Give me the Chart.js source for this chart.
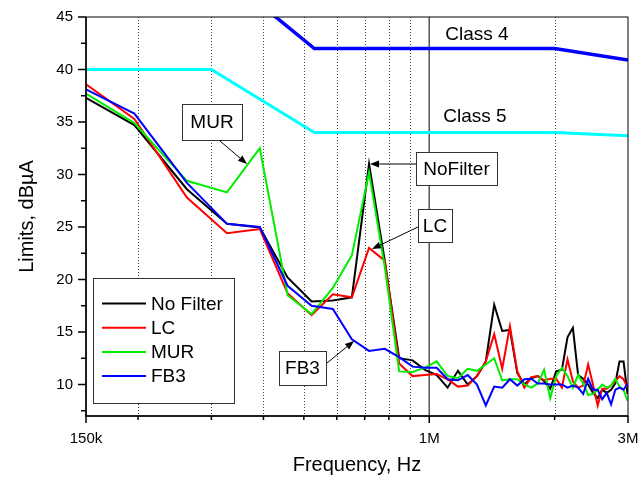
<!DOCTYPE html>
<html>
<head>
<meta charset="utf-8">
<script src="https://cdn.jsdelivr.net/npm/chart.js@4.4.1/dist/chart.umd.min.js"></script>
<style>
html, body { margin: 0; padding: 0; background: #fff; }
#wrap { width: 639px; height: 477px; }
</style>
</head>
<body>
<div id="wrap"><canvas id="chart" width="639" height="477"></canvas></div>
<script>
// measured frequencies, kHz
const freqKHz = [150, 196, 262, 327, 392, 457, 522, 587, 652, 717, 782, 847, 912, 977, 1042, 1107, 1172, 1237, 1302, 1367,
    1432, 1497, 1562, 1627, 1692, 1757, 1822, 1887, 1952, 2017, 2082, 2147, 2212, 2277, 2342, 2407, 2472, 2537, 2602, 2667,
    2732, 2797, 2862, 2927, 2992];

const noFilter = [37.3, 34.7, 28.6, 25.3, 24.95, 20.2, 17.9, 18.0, 18.3, 31.0, 21.8, 12.5, 12.3, 11.4, 10.9, 9.7, 11.3, 10.0, 10.8, 12.2,
    17.6, 15.1, 15.2, 11.1, 10.0, 10.6, 10.8, 10.3, 9.6, 11.25, 11.4, 14.5, 15.4, 10.9, 10.55, 10.0, 9.2, 8.7, 9.5, 9.2,
    9.5, 10.1, 12.2, 12.2, 9.1];
const lc = [38.6, 35.3, 27.8, 24.4, 24.8, 18.7, 16.6, 18.6, 18.3, 23.0, 21.8, 12.0, 10.8, 10.9, 11.0, 10.5, 9.8, 9.9, 10.8, 12.2,
    14.8, 11.5, 15.55, 11.25, 9.7, 10.7, 10.8, 10.4, 10.55, 10.55, 9.7, 12.4, 10.3, 9.7, 9.9, 11.9, 10.0, 8.0, 9.6, 9.6,
    9.9, 10.3, 10.8, 10.5, 9.7];
const mur = [37.7, 34.9, 29.4, 28.3, 32.5, 18.5, 16.7, 19.2, 22.3, 30.2, 21.2, 11.25, 11.2, 11.6, 12.2, 10.8, 10.6, 11.5, 11.3, 11.9,
    12.5, 10.4, 10.5, 10.5, 10.0, 9.7, 10.1, 11.4, 8.7, 10.8, 11.6, 10.8, 9.7, 10.9, 10.1, 9.0, 9.1, 9.5, 10.0, 9.7,
    9.9, 10.55, 9.8, 9.5, 8.45];
const fb3 = [38.1, 35.8, 29.2, 25.3, 25.0, 19.4, 17.5, 17.2, 14.3, 13.2, 13.4, 12.6, 11.7, 11.6, 11.6, 10.5, 10.4, 10.9, 10.0, 8.0,
    9.8, 9.7, 10.5, 9.9, 10.5, 10.55, 10.1, 10.1, 10.0, 10.0, 10.0, 9.7, 9.9, 9.7, 9.1, 10.55, 9.5, 9.5, 8.6, 9.2,
    8.1, 9.5, 9.7, 9.5, 10.1];

// limit lines
const limitKHz = [150, 300, 530, 2000, 3000];
const class4 = [50, 50, 42, 42, 40.9];
const class5 = [40, 40, 34, 34, 33.7];

// axes
const xMajor = [150000, 1000000, 3000000];
const xMajorLabels = ['150k', '1M', '3M'];
const xMinor = [200000, 300000, 400000, 500000, 600000, 700000, 800000, 900000, 2000000];
const yMajor = [10, 15, 20, 25, 30, 35, 40, 45];
const yMinor = [7.5, 12.5, 17.5, 22.5, 27.5, 32.5, 37.5, 42.5];

const FONT = "'Liberation Sans', Arial, sans-serif";

function pts(khz, vals) {
    return khz.map((f, i) => ({ x: f * 1000, y: vals[i] }));
}

function line(label, color, vals, khz, width) {
    return {
        label: label,
        data: pts(khz, vals),
        borderColor: color,
        backgroundColor: color,
        borderWidth: width,
        pointRadius: 0,
        fill: false,
        tension: 0
    };
}

const series = [
    line('No Filter', '#000000', noFilter, freqKHz, 2),
    line('LC', '#ff0000', lc, freqKHz, 2),
    line('MUR', '#00ee00', mur, freqKHz, 2),
    line('FB3', '#0000ff', fb3, freqKHz, 2)
];
const limits = [
    line('Class 4', '#0000ff', class4, limitKHz, 3.5),
    line('Class 5', '#00ffff', class5, limitKHz, 3)
];

// annotation boxes: text, box and arrow (pixel layout)
const notes = [
    { text: 'MUR', box: [182, 104, 242, 140], arrow: [220, 141, 247, 164] },
    { text: 'NoFilter', box: [416, 152, 497, 185], arrow: [416, 164, 370, 164] },
    { text: 'LC', box: [418, 209, 452, 242], arrow: [418, 227, 372, 249] },
    { text: 'FB3', box: [279, 351, 326, 385], arrow: [327, 363, 354, 341] }
];
const classLabels = [
    { text: 'Class 4', x: 477, y: 35 },
    { text: 'Class 5', x: 475, y: 117 }
];

function arrow(ctx, x1, y1, x2, y2) {
    const ang = Math.atan2(y2 - y1, x2 - x1);
    const len = 9, half = 3.5;
    ctx.beginPath();
    ctx.moveTo(x1, y1);
    ctx.lineTo(x2 - Math.cos(ang) * len, y2 - Math.sin(ang) * len);
    ctx.stroke();
    ctx.beginPath();
    ctx.moveTo(x2, y2);
    ctx.lineTo(x2 - Math.cos(ang) * len - Math.sin(ang) * half, y2 - Math.sin(ang) * len + Math.cos(ang) * half);
    ctx.lineTo(x2 - Math.cos(ang) * len + Math.sin(ang) * half, y2 - Math.sin(ang) * len - Math.cos(ang) * half);
    ctx.closePath();
    ctx.fill();
}

const gridPlugin = {
    id: 'gridLines',
    beforeDatasetsDraw(chart) {
        const { ctx, chartArea: a, scales: { x } } = chart;
        ctx.save();
        ctx.strokeStyle = '#444';
        ctx.lineWidth = 1;
        ctx.setLineDash([1, 2]);
        xMinor.forEach(f => {
            const px = Math.round(x.getPixelForValue(f)) + 0.5;
            ctx.beginPath();
            ctx.moveTo(px, a.top);
            ctx.lineTo(px, a.bottom);
            ctx.stroke();
        });
        ctx.setLineDash([]);
        ctx.strokeStyle = '#555';
        ctx.lineWidth = 1.5;
        const m = x.getPixelForValue(1000000);
        ctx.beginPath();
        ctx.moveTo(m, a.top);
        ctx.lineTo(m, a.bottom);
        ctx.stroke();
        ctx.restore();
    }
};

const framePlugin = {
    id: 'frameAndNotes',
    afterDatasetsDraw(chart) {
        const { ctx, chartArea: a, scales: { x, y } } = chart;
        ctx.save();
        // frame
        ctx.strokeStyle = '#000';
        ctx.lineWidth = 1;
        ctx.strokeRect(a.left, a.top, a.right - a.left, a.bottom - a.top);
        ctx.lineWidth = 1.5;
        ctx.beginPath();
        ctx.moveTo(a.left, a.top);
        ctx.lineTo(a.left, a.bottom);
        ctx.lineTo(a.right, a.bottom);
        ctx.stroke();
        // ticks
        ctx.lineWidth = 1.5;
        xMajor.forEach(f => {
            const px = x.getPixelForValue(f);
            ctx.beginPath(); ctx.moveTo(px, a.bottom); ctx.lineTo(px, a.bottom + 7); ctx.stroke();
        });
        xMinor.forEach(f => {
            const px = x.getPixelForValue(f);
            ctx.beginPath(); ctx.moveTo(px, a.bottom); ctx.lineTo(px, a.bottom + 4); ctx.stroke();
        });
        yMajor.forEach(v => {
            const py = y.getPixelForValue(v);
            ctx.beginPath(); ctx.moveTo(a.left, py); ctx.lineTo(a.left - 8, py); ctx.stroke();
        });
        yMinor.forEach(v => {
            const py = y.getPixelForValue(v);
            ctx.beginPath(); ctx.moveTo(a.left, py); ctx.lineTo(a.left - 5, py); ctx.stroke();
        });

        // axis titles
        ctx.fillStyle = '#000';
        ctx.font = '20px ' + FONT;
        ctx.textAlign = 'center';
        ctx.textBaseline = 'middle';
        ctx.fillText('Frequency, Hz', (a.left + a.right) / 2, 465);
        ctx.save();
        ctx.translate(27, (a.top + a.bottom) / 2);
        ctx.rotate(-Math.PI / 2);
        ctx.fillText('Limits, dB\u00b5A', 0, 0);
        ctx.restore();

        // class labels
        ctx.font = '19px ' + FONT;
        classLabels.forEach(c => ctx.fillText(c.text, c.x, c.y));

        // annotation boxes
        notes.forEach(n => {
            const [x1, y1, x2, y2] = n.box;
            ctx.fillStyle = '#fff';
            ctx.fillRect(x1, y1, x2 - x1, y2 - y1);
            ctx.strokeStyle = '#333';
            ctx.lineWidth = 1;
            ctx.strokeRect(x1 + 0.5, y1 + 0.5, x2 - x1, y2 - y1);
            ctx.fillStyle = '#000';
            ctx.fillText(n.text, (x1 + x2) / 2, (y1 + y2) / 2 + 1);
            ctx.strokeStyle = '#000';
            arrow(ctx, ...n.arrow);
        });

        // legend
        const lx1 = 93, ly1 = 278, lx2 = 234, ly2 = 403;
        ctx.fillStyle = '#fff';
        ctx.fillRect(lx1, ly1, lx2 - lx1, ly2 - ly1);
        ctx.strokeStyle = '#333';
        ctx.lineWidth = 1;
        ctx.strokeRect(lx1 + 0.5, ly1 + 0.5, lx2 - lx1, ly2 - ly1);
        ctx.textAlign = 'left';
        series.forEach((s, i) => {
            const yy = 303.5 + i * 24.2;
            ctx.strokeStyle = s.borderColor;
            ctx.lineWidth = 2;
            ctx.beginPath(); ctx.moveTo(102, yy); ctx.lineTo(146, yy); ctx.stroke();
            ctx.fillStyle = '#000';
            ctx.fillText(s.label, 151, yy + 1);
        });
        ctx.restore();
    }
};

Chart.defaults.font.family = FONT;

new Chart(document.getElementById('chart'), {
    type: 'line',
    data: { datasets: [...limits, ...series.slice().reverse()] },
    options: {
        responsive: false,
        animation: false,
        devicePixelRatio: 1,
        layout: { padding: { left: 0, right: 11, top: 17, bottom: 0 } },
        plugins: { legend: { display: false }, tooltip: { enabled: false } },
        scales: {
            x: {
                type: 'logarithmic',
                min: 150000,
                max: 3000000,
                // grid hidden; tickLength only offsets the labels
                grid: { display: false, drawTicks: true, tickLength: 14 },
                border: { display: false },
                afterBuildTicks: s => { s.ticks = xMajor.map(v => ({ value: v })); },
                afterFit: s => { s.height = 61; },
                ticks: {
                    autoSkip: false,
                    maxRotation: 0,
                    padding: 0,
                    color: '#000',
                    font: { size: 15 },
                    callback: v => { const i = xMajor.indexOf(v); return i >= 0 ? xMajorLabels[i] : ''; }
                }
            },
            y: {
                min: 7,
                max: 45,
                grid: { display: false, drawTicks: true, tickLength: 13 },
                border: { display: false },
                afterBuildTicks: s => { s.ticks = yMajor.map(v => ({ value: v })); },
                afterFit: s => { s.width = 86; },
                ticks: { padding: 0, color: '#000', font: { size: 15 } }
            }
        }
    },
    plugins: [gridPlugin, framePlugin]
});
</script>
</body>
</html>
